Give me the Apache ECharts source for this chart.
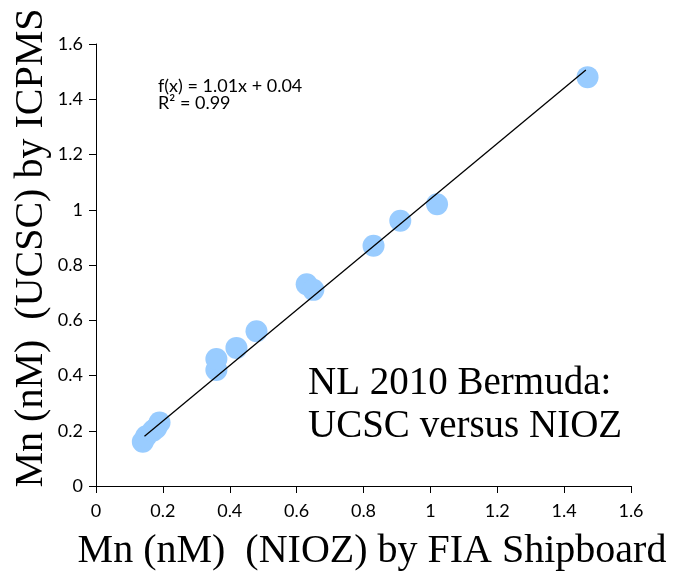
<!DOCTYPE html>
<html>
<head>
<meta charset="utf-8">
<script src="https://cdn.jsdelivr.net/npm/echarts@6/dist/echarts.min.js"></script>
<style>html,body{margin:0;padding:0;background:#fff}#c{width:673px;height:574px}</style>
</head>
<body>
<div id="c"></div>
<script>
const xVals = [0.14, 0.15, 0.17, 0.18, 0.19, 0.36, 0.36, 0.42, 0.48, 0.63, 0.65, 0.83, 0.91, 1.02, 1.47];
const yVals = [0.16, 0.18, 0.20, 0.21, 0.23, 0.42, 0.46, 0.50, 0.56, 0.73, 0.71, 0.87, 0.96, 1.02, 1.48];
const trendX = [0.145, 1.465];
const trendY = [0.18, 1.506];
const xTicks = ['0', '0.2', '0.4', '0.6', '0.8', '1', '1.2', '1.4', '1.6'];
const yTicks = ['0', '0.2', '0.4', '0.6', '0.8', '1', '1.2', '1.4', '1.6'];

const chart = echarts.init(document.getElementById('c'));
const serif = '"Liberation Serif", "DejaVu Serif", serif';
const axisCommon = {
  type: 'value', min: 0, max: 1.6, interval: 0.2,
  axisLine: { show: true, onZero: false, lineStyle: { color: '#000', width: 1 } },
  axisTick: { show: true, inside: false, length: 7, lineStyle: { color: '#000' } },
  splitLine: { show: false },
  axisLabel: { color: '#000', fontFamily: 'Lato', fontSize: 18 }
};
chart.setOption({
  animation: false,
  grid: { left: 96, right: 42, top: 44, bottom: 88 },
  xAxis: Object.assign({}, axisCommon, {
    axisLabel: Object.assign({}, axisCommon.axisLabel, { margin: 16, formatter: v => xTicks[Math.round(v / 0.2)] })
  }),
  yAxis: Object.assign({}, axisCommon, {
    axisLabel: Object.assign({}, axisCommon.axisLabel, { margin: 13, formatter: v => yTicks[Math.round(v / 0.2)] })
  }),
  series: [
    {
      type: 'scatter', symbolSize: 22,
      itemStyle: { color: '#99CCFF', opacity: 1 },
      data: xVals.map((x, i) => [x, yVals[i]]), z: 2
    },
    {
      type: 'line', showSymbol: false, symbol: 'none',
      lineStyle: { color: '#000', width: 1.3 },
      data: trendX.map((x, i) => [x, trendY[i]]), z: 3
    }
  ],
  graphic: [
    { type: 'text', left: 158, top: 77, style: { text: 'f(x) = 1.01x + 0.04\nR² = 0.99', font: '18px Lato', fill: '#000', lineHeight: 17 } },
    { type: 'text', left: 308, top: 362, style: { text: 'NL 2010 Bermuda:\nUCSC versus NIOZ', font: '39px ' + serif, fill: '#000', lineHeight: 43 } },
    { type: 'text', x: 372, y: 551, style: { text: 'Mn (nM)  (NIOZ) by FIA Shipboard', font: '40px ' + serif, fill: '#000', align: 'center', verticalAlign: 'middle' } },
    { type: 'text', x: 31, y: 248, rotation: Math.PI / 2, style: { text: 'Mn (nM)  (UCSC) by ICPMS', font: '40px ' + serif, fill: '#000', align: 'center', verticalAlign: 'middle' } }
  ]
});
</script>
</body>
</html>
